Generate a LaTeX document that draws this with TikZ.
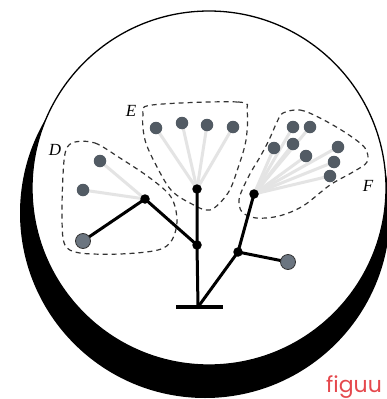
\documentclass[tikz,border=0pt]{standalone}
\usepackage{fontspec}
\setmainfont{Liberation Serif}
\newfontfamily\wmfont{Poppins}
\definecolor{dotgray}{HTML}{525B64}
\definecolor{leafgray}{HTML}{6B7580}
\definecolor{fangray}{HTML}{E4E4E4}
\definecolor{wmred}{HTML}{E5484D}
\pgfdeclarelayer{back}
\pgfdeclarelayer{mid}
\pgfsetlayers{back,mid,main}
\begin{document}
\begin{tikzpicture}[x=1pt,y=-1pt,
  branch/.style={line width=3pt},
  fan/.style={fangray, line width=3pt},
  joint/.style={circle, fill=black, inner sep=0pt, minimum size=9.5pt},
  leaf/.style={circle, fill=leafgray, draw=black!80, line width=0.8pt, inner sep=0pt, minimum size=15pt},
  dot/.style={circle, fill=dotgray, inner sep=0pt, minimum size=12.5pt},
  hull/.style={black!80, line width=1.2pt, dash pattern=on 5pt off 4pt},
  lbl/.style={font=\fontsize{17}{17}\selectfont\itshape, inner sep=0pt}]
\useasboundingbox (0,0) rectangle (386,399);
\clip (0,0) rectangle (386,399);
% nodes
\node[dot] (d1) at (100,161) {};
\node[dot] (d2) at (83,190) {};
\node[dot] (e1) at (156,128) {};
\node[dot] (e2) at (182,123) {};
\node[dot] (e3) at (207,125) {};
\node[dot] (e4) at (233,127) {};
\node[dot] (f1) at (293,127) {};
\node[dot] (f2) at (310,127) {};
\node[dot] (f3) at (274,148) {};
\node[dot] (f4) at (293,144) {};
\node[dot] (f5) at (306,156) {};
\node[dot] (f6) at (338,147) {};
\node[dot] (f7) at (334,162) {};
\node[dot] (f8) at (330,176) {};
\node[joint] (jd) at (145,199) {};
\node[joint] (je) at (197,189) {};
\node[joint] (jm) at (197,245) {};
\node[joint] (jf) at (254,194) {};
\node[joint] (jr) at (238,252) {};
\node[leaf] (la) at (83,241) {};
\node[leaf] (lb) at (288,262) {};
\coordinate (base) at (198,307);
\coordinate (barL) at (176,307);
\coordinate (barR) at (223,307);
\node[lbl] (lD) at (55,150) {D};
\node[lbl] (lE) at (131,111) {E};
\node[lbl] (lF) at (368,186) {F};
\node[anchor=base west, text=wmred, font=\wmfont\fontsize{22}{22}\selectfont, inner sep=0pt] (wm) at (326,392) {figuu};
\begin{pgfonlayer}{back}
\fill[black] (205,213) circle[radius=185pt];
\filldraw[fill=white, draw=black, line width=1.3pt] (209,188) circle[radius=177pt];
\end{pgfonlayer}
\begin{pgfonlayer}{mid}
\foreach \n in {d1,d2} \draw[fan] (\n.center) -- (jd.center);
\foreach \n in {e1,e2,e3,e4} \draw[fan] (\n.center) -- (je.center);
\foreach \n in {f1,f2,f3,f4,f5,f6,f7,f8} \draw[fan] (\n.center) -- (jf.center);
\draw[hull] plot[smooth cycle, tension=0.55] coordinates {(75,142) (95,143) (120,158) (150,178) (171,197) (177,220) (172,240) (158,250) (120,254) (80,253) (65,245) (62,220) (63,175) (66,150)};
\draw[hull] plot[smooth cycle, tension=0.55] coordinates {(152,105) (238,102) (247,111) (246,140) (238,168) (228,193) (210,210) (190,203) (171,190) (156,165) (145,140) (143,115)};
\draw[hull] plot[smooth cycle, tension=0.55] coordinates {(283,113) (300,110) (320,118) (346,133) (365,148) (367,162) (353,172) (330,185) (303,206) (279,216) (256,218) (242,212) (239,200) (243,188) (251,172) (260,157) (269,140) (277,122)};
\draw[line width=3.8pt] (barL) -- (barR);
\draw[branch] (base) -- (jm.center) -- (je.center);
\draw[branch] (base) -- (jr.center) -- (jf.center);
\draw[branch] (jr.center) -- (lb.center);
\draw[branch] (jm.center) -- (jd.center) -- (la.center);
\end{pgfonlayer}
\end{tikzpicture}
\end{document}
